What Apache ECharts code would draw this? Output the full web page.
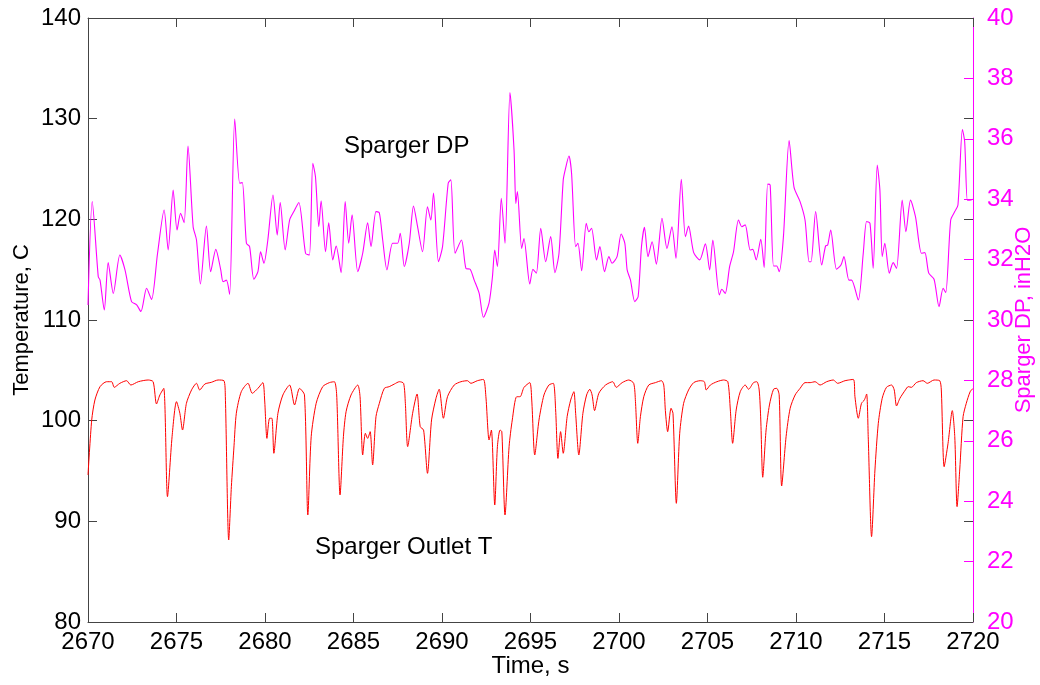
<!DOCTYPE html>
<html>
<head>
<meta charset="utf-8">
<script src="https://cdn.jsdelivr.net/npm/echarts@6/dist/echarts.min.js"></script>
<style>
html,body{margin:0;padding:0;background:#fff;}
#chart{width:1040px;height:685px;}
</style>
</head>
<body>
<div id="chart"></div>
<script>
// Sparger DP (right axis, inH2O)
var dpTime = [2670.00,2670.24,2670.58,2670.68,2670.92,2671.14,2671.43,2671.80,2672.09,2672.46,2672.75,2672.99,2673.31,2673.59,2673.93,2674.30,2674.53,2674.81,2675.03,2675.23,2675.43,2675.65,2675.94,2676.13,2676.35,2676.69,2676.93,2677.22,2677.50,2677.63,2677.82,2678.00,2678.29,2678.57,2678.72,2678.95,2679.13,2679.37,2679.60,2679.75,2679.94,2680.16,2680.45,2680.69,2680.86,2681.14,2681.39,2681.63,2681.91,2682.29,2682.51,2682.70,2682.85,2683.04,2683.17,2683.42,2683.60,2683.83,2684.02,2684.30,2684.53,2684.73,2684.92,2685.24,2685.52,2685.80,2685.99,2686.27,2686.46,2686.65,2686.89,2687.21,2687.49,2687.64,2687.87,2688.15,2688.39,2688.62,2688.90,2689.18,2689.37,2689.52,2689.80,2690.03,2690.35,2690.50,2690.74,2691.10,2691.35,2691.59,2691.82,2692.10,2692.34,2692.66,2692.85,2692.98,2693.13,2693.35,2693.56,2693.84,2694.07,2694.17,2694.26,2694.50,2694.63,2694.96,2695.14,2695.33,2695.58,2695.86,2696.14,2696.38,2696.61,2696.85,2696.98,2697.17,2697.32,2697.55,2697.68,2697.89,2698.15,2698.30,2698.45,2698.73,2698.92,2699.18,2699.43,2699.61,2699.89,2700.12,2700.33,2700.46,2700.65,2700.89,2701.08,2701.27,2701.44,2701.64,2701.87,2702.11,2702.43,2702.71,2702.99,2703.22,2703.52,2703.75,2703.93,2704.22,2704.56,2704.88,2705.12,2705.30,2705.67,2705.81,2706.00,2706.25,2706.47,2706.75,2706.94,2707.13,2707.41,2707.56,2707.75,2708.01,2708.20,2708.40,2708.54,2708.73,2708.91,2709.05,2709.29,2709.61,2709.89,2710.23,2710.51,2710.74,2710.85,2711.11,2711.45,2711.67,2711.79,2711.96,2712.29,2712.54,2712.71,2712.99,2713.14,2713.52,2713.80,2713.99,2714.18,2714.36,2714.59,2714.74,2714.87,2715.02,2715.27,2715.49,2715.68,2716.00,2716.21,2716.47,2716.75,2717.09,2717.28,2717.50,2717.80,2718.08,2718.31,2718.46,2718.74,2718.97,2719.15,2719.40,2719.53,2719.68,2719.81,2720.00];
var dpValue = [30.50,33.92,31.43,31.32,30.33,31.90,30.88,32.15,31.66,30.61,30.50,30.28,31.05,30.68,32.21,33.64,32.32,34.30,32.98,33.53,33.22,35.76,33.09,32.65,31.19,33.11,31.60,32.34,31.66,31.27,31.32,30.85,36.65,34.53,34.55,32.54,32.43,31.35,31.60,32.26,31.88,32.65,34.14,32.81,33.89,32.32,33.31,33.59,33.89,32.21,32.15,35.19,34.75,33.09,33.95,32.26,33.22,31.99,32.45,31.57,33.92,32.54,33.48,31.60,32.21,33.22,32.43,33.59,33.55,32.65,31.66,32.54,32.54,32.87,31.77,32.54,33.77,33.09,32.26,33.75,33.31,34.20,31.93,32.43,34.53,34.64,32.21,32.65,31.71,31.68,31.32,30.88,30.09,30.57,31.43,32.32,31.77,34.03,32.54,37.53,35.63,33.86,34.25,32.37,32.70,31.19,31.68,31.55,33.04,31.93,32.76,31.57,32.21,34.64,35.02,35.43,34.86,32.43,32.54,31.63,33.20,32.92,33.04,31.99,32.43,31.60,32.10,31.88,32.10,32.85,32.54,31.66,31.32,30.61,30.77,32.43,33.07,32.10,32.59,31.85,33.37,32.37,33.09,32.04,34.66,32.76,33.11,32.23,31.99,32.52,31.66,32.65,30.83,31.02,30.88,31.77,32.26,33.31,33.09,33.15,32.32,32.34,31.99,32.67,31.74,34.50,34.47,31.79,31.79,31.60,32.76,35.94,34.39,33.92,33.31,31.93,31.93,33.59,31.82,32.45,32.48,32.98,31.68,31.82,32.10,31.32,31.32,30.66,32.21,33.26,33.20,31.71,35.13,34.30,32.10,32.54,31.55,31.90,31.71,33.97,32.92,33.97,33.42,32.21,32.23,31.55,31.35,30.44,31.05,30.91,33.31,33.59,33.81,36.31,35.90,33.97,33.97,34.00];

// Sparger Outlet T (left axis, C)
var tempTime = [2670.00,2670.21,2670.39,2670.68,2671.05,2671.34,2671.48,2671.80,2672.18,2672.42,2672.84,2673.40,2673.68,2673.87,2674.06,2674.28,2674.49,2674.75,2675.00,2675.19,2675.34,2675.56,2675.85,2676.13,2676.31,2676.60,2676.97,2677.35,2677.68,2677.76,2677.95,2678.10,2678.25,2678.38,2678.66,2679.04,2679.28,2679.60,2679.88,2679.98,2680.11,2680.26,2680.39,2680.50,2680.73,2681.01,2681.39,2681.67,2681.95,2682.23,2682.42,2682.61,2682.89,2683.26,2683.64,2683.92,2684.05,2684.24,2684.43,2684.58,2684.86,2685.24,2685.37,2685.52,2685.67,2685.80,2685.94,2686.08,2686.27,2686.46,2686.74,2687.02,2687.31,2687.59,2687.83,2687.93,2688.06,2688.34,2688.59,2688.77,2688.96,2689.18,2689.41,2689.66,2689.84,2690.08,2690.31,2690.69,2691.07,2691.44,2691.63,2692.00,2692.34,2692.48,2692.66,2692.79,2692.98,2693.13,2693.28,2693.38,2693.56,2693.79,2693.97,2694.22,2694.41,2694.63,2694.96,2695.07,2695.24,2695.48,2695.76,2696.04,2696.29,2696.42,2696.55,2696.70,2696.85,2697.07,2697.27,2697.45,2697.55,2697.73,2697.96,2698.17,2698.35,2698.48,2698.62,2698.86,2699.24,2699.65,2699.84,2700.18,2700.55,2700.83,2700.93,2701.06,2701.21,2701.40,2701.68,2702.06,2702.40,2702.53,2702.62,2702.75,2702.94,2703.05,2703.24,2703.43,2703.65,2703.93,2704.22,2704.59,2704.82,2704.93,2705.16,2705.53,2705.91,2706.15,2706.29,2706.42,2706.62,2706.85,2707.13,2707.32,2707.60,2707.79,2707.92,2708.01,2708.12,2708.31,2708.50,2708.73,2708.91,2709.05,2709.19,2709.44,2709.67,2709.95,2710.23,2710.51,2710.80,2711.08,2711.36,2711.73,2712.11,2712.35,2712.77,2713.24,2713.33,2713.52,2713.70,2713.86,2713.99,2714.08,2714.27,2714.46,2714.65,2714.87,2715.11,2715.40,2715.55,2715.68,2715.87,2716.18,2716.34,2716.52,2716.80,2717.18,2717.42,2717.80,2718.12,2718.21,2718.37,2718.59,2718.83,2718.97,2719.10,2719.25,2719.44,2719.62,2719.84,2720.00];
var tempValue = [94.6,100.07,102.05,103.38,103.87,103.87,103.31,103.71,103.97,103.54,103.87,104.04,103.87,101.66,102.55,103.21,92.45,98.41,101.89,100.73,99.07,101.72,103.05,103.71,103.05,103.64,103.81,104.04,103.97,102.38,88.15,93.44,97.50,100.73,102.88,103.71,102.72,103.21,103.78,102.05,98.24,100.24,100.24,96.76,100.73,102.55,103.54,101.56,103.21,102.55,90.63,98.41,101.72,103.38,103.78,103.87,102.55,92.62,98.41,100.89,102.55,103.54,102.38,96.59,98.74,98.24,98.91,95.60,100.40,101.72,103.21,103.38,103.64,103.87,103.71,101.72,97.42,100.73,102.65,99.40,99.07,94.77,100.07,102.22,103.12,100.24,102.38,103.54,103.87,103.97,103.71,103.97,104.10,102.38,98.08,99.07,91.62,97.42,99.07,98.91,90.63,97.42,100.07,102.38,102.38,103.30,103.78,102.05,96.59,100.07,102.55,103.54,103.71,101.06,96.25,98.91,96.76,100.40,102.05,102.88,100.73,96.59,100.73,102.55,103.12,102.55,101.00,102.72,103.54,103.87,103.31,103.78,104.04,103.71,101.89,97.75,100.40,102.38,103.54,103.78,103.97,103.54,101.00,98.91,101.23,100.73,91.79,98.74,101.72,103.05,103.78,103.97,103.87,103.05,103.54,103.87,104.04,103.87,101.06,97.75,101.06,102.88,103.54,103.12,103.78,103.87,103.05,100.07,94.38,99.07,101.56,103.12,103.21,102.55,93.51,98.41,101.23,102.55,103.21,103.78,103.78,103.87,103.54,103.87,104.04,103.71,103.97,104.10,102.38,100.24,101.72,102.05,102.65,98.41,88.48,95.10,99.74,102.22,103.31,103.54,103.05,101.46,102.22,103.05,103.38,103.31,103.78,103.97,103.71,104.04,103.97,103.05,95.43,97.75,101.00,98.41,91.46,95.10,100.40,101.72,102.88,103.20];

var xTicks = {min: 2670, max: 2720, interval: 5};
var leftTicks = {min: 80, max: 140, interval: 10};
var rightTicks = {min: 20, max: 40, interval: 2};

function pairs(t, v) { return t.map(function (x, i) { return [x, v[i]]; }); }

var FONT = 'Liberation Sans, Arial, sans-serif';
var FS = 24;
var chart = echarts.init(document.getElementById('chart'), null, {renderer: 'canvas'});
chart.setOption({
  animation: false,
  backgroundColor: '#ffffff',
  grid: {left: 88, right: 67, top: 18, bottom: 63, show: false, containLabel: false, outerBoundsMode: 'none'},
  xAxis: [{
    type: 'value', position: 'bottom', min: xTicks.min, max: xTicks.max, interval: xTicks.interval,
    name: 'Time, s', nameLocation: 'middle', nameGap: 32, nameMoveOverlap: false,
    nameTextStyle: {color: '#000', fontSize: FS, fontFamily: FONT},
    axisLine: {show: true, lineStyle: {color: '#444', width: 1}},
    axisTick: {show: true, inside: true, length: 9, lineStyle: {color: '#444'}},
    axisLabel: {color: '#000', fontSize: FS, fontFamily: FONT, margin: 8, formatter: function (v) { return String(v); }},
    splitLine: {show: false}
  }, {
    type: 'value', position: 'top', min: xTicks.min, max: xTicks.max, interval: xTicks.interval,
    axisLine: {show: true, lineStyle: {color: '#444', width: 1}},
    axisTick: {show: true, inside: true, length: 9, lineStyle: {color: '#444'}},
    axisLabel: {show: false}, splitLine: {show: false}
  }],
  yAxis: [{
    type: 'value', position: 'left', min: leftTicks.min, max: leftTicks.max, interval: leftTicks.interval,
    name: 'Temperature, C', nameLocation: 'middle', nameRotate: 90, nameGap: 55, nameMoveOverlap: false,
    nameTextStyle: {color: '#000', fontSize: 22, fontFamily: FONT},
    axisLine: {show: true, lineStyle: {color: '#444', width: 1}},
    axisTick: {show: true, inside: true, length: 9, lineStyle: {color: '#444'}},
    axisLabel: {color: '#000', fontSize: FS, fontFamily: FONT, margin: 7},
    splitLine: {show: false}
  }, {
    type: 'value', position: 'right', min: rightTicks.min, max: rightTicks.max, interval: rightTicks.interval,
    name: 'Sparger DP, inH2O', nameLocation: 'middle', nameRotate: 90, nameGap: 40, nameMoveOverlap: false,
    nameTextStyle: {color: '#ff00ff', fontSize: 22, fontFamily: FONT},
    axisLine: {show: true, lineStyle: {color: '#ff00ff', width: 1}},
    axisTick: {show: true, inside: true, length: 9, lineStyle: {color: '#ff00ff'}},
    axisLabel: {color: '#ff00ff', fontSize: FS, fontFamily: FONT, margin: 14},
    splitLine: {show: false}
  }, {
    type: 'value', position: 'right', offset: 0, min: leftTicks.min, max: leftTicks.max, interval: leftTicks.interval,
    axisLine: {show: false},
    axisTick: {show: true, inside: true, length: 9, lineStyle: {color: '#444'}},
    axisLabel: {show: false}, splitLine: {show: false}
  }],
  series: [{
    name: 'Sparger DP', type: 'line', xAxisIndex: 0, yAxisIndex: 1,
    data: pairs(dpTime, dpValue), showSymbol: false, smooth: 0.25,
    lineStyle: {color: '#ff00ff', width: 1.1}, z: 3
  }, {
    name: 'Sparger Outlet T', type: 'line', xAxisIndex: 0, yAxisIndex: 0,
    data: pairs(tempTime, tempValue), showSymbol: false, smooth: 0.25,
    lineStyle: {color: '#ff0000', width: 1}, z: 3
  }],
  graphic: [{
    type: 'text', left: 344, top: 134,
    style: {text: 'Sparger DP', fill: '#000', font: FS + 'px ' + FONT}
  }, {
    type: 'text', left: 315, top: 535,
    style: {text: 'Sparger Outlet T', fill: '#000', font: FS + 'px ' + FONT}
  }]
});
</script>
</body>
</html>
